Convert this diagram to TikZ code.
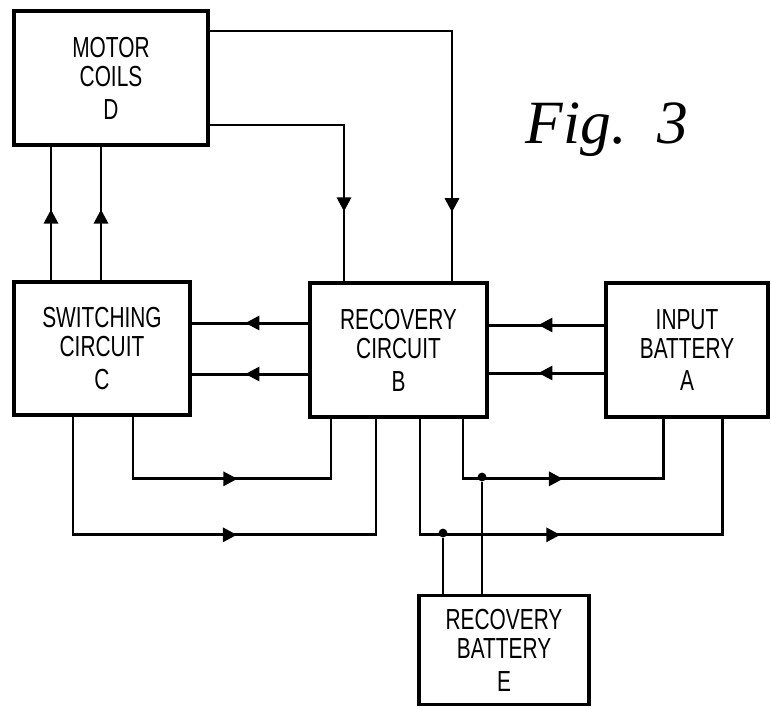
\documentclass[tikz,border=0pt]{standalone}
\usepackage{fontspec}
\newfontfamily\blockfont[FakeStretch=0.72]{Liberation Sans}
\newfontfamily\figfont{Liberation Serif}
\usetikzlibrary{arrows.meta,decorations.markings}

\begin{document}
\begin{tikzpicture}[
  x=0.02cm, y=-0.02cm,
  every node/.style={font=\blockfont\fontsize{16.5}{16.6}\selectfont},
  block/.style={rectangle, draw, line width=2.1pt, align=center, inner sep=0pt},
  wire/.style={line width=1.7pt},
  flow/.style={wire, postaction={decorate, decoration={markings,
      mark=at position #1 with {\arrow{Triangle[length=8pt,width=8pt]}}}}},
  flow/.default=0.5,
  dot/.style={circle, fill, inner sep=0pt, minimum size=5pt}
]
  \useasboundingbox (0,0) rectangle (771,707);

  \node[block, minimum width=3.88cm, minimum height=2.68cm] (coils)
    at (111,78) {MOTOR\\COILS\\[2pt]D};
  \node[block, minimum width=3.52cm, minimum height=2.66cm] (switch)
    at (102,348.5) {SWITCHING\\CIRCUIT\\[2pt]C};
  \node[block, minimum width=3.54cm, minimum height=2.68cm] (recov)
    at (398.5,350) {RECOVERY\\CIRCUIT\\[2pt]B};
  \node[block, minimum width=3.24cm, minimum height=2.68cm] (input)
    at (687,350) {INPUT\\BATTERY\\[2pt]A};
  \node[block, minimum width=3.40cm, minimum height=2.18cm] (rbatt)
    at (504,650) {RECOVERY\\BATTERY\\[2pt]E};

  \node[font=\figfont\itshape\fontsize{35}{40}\selectfont, anchor=base] (fig)
    at (607,143) {Fig.\ \ 3};

  \node[dot] (j1) at (443,533) {};
  \node[dot] (j2) at (482,477) {};

  \draw[flow=0.53] (switch.north -| 51,0) -- (coils.south -| 51,0);
  \draw[flow=0.53] (switch.north -| 101,0) -- (coils.south -| 101,0);
  \draw[flow=0.76] (coils.east |- 0,125) -| (recov.north -| 344,0);
  \draw[flow=0.86] (coils.east |- 0,31) -| (recov.north -| 452,0);

  \draw[flow=0.54] (recov.west |- 0,323) -- (switch.east |- 0,323);
  \draw[flow=0.54] (recov.west |- 0,374) -- (switch.east |- 0,374);
  \draw[flow=0.57] (input.west |- 0,325) -- (recov.east |- 0,325);
  \draw[flow=0.57] (input.west |- 0,373) -- (recov.east |- 0,373);

  \draw[flow=0.52] (switch.south -| 133,0) -- ++(0,62) -| (recov.south -| 331,0);
  \draw[flow=0.525] (switch.south -| 73,0) -- ++(0,118) -| (recov.south -| 376,0);
  \draw[flow=0.50] (recov.south -| 463,0) -- ++(0,60) -| (input.south -| 663,0);
  \draw[flow=0.48] (recov.south -| 420,0) -- ++(0,116) -| (input.south -| 722,0);

  \draw[wire] (j1) -- (rbatt.north -| j1);
  \draw[wire] (j2) -- (rbatt.north -| j2);
\end{tikzpicture}
\end{document}
